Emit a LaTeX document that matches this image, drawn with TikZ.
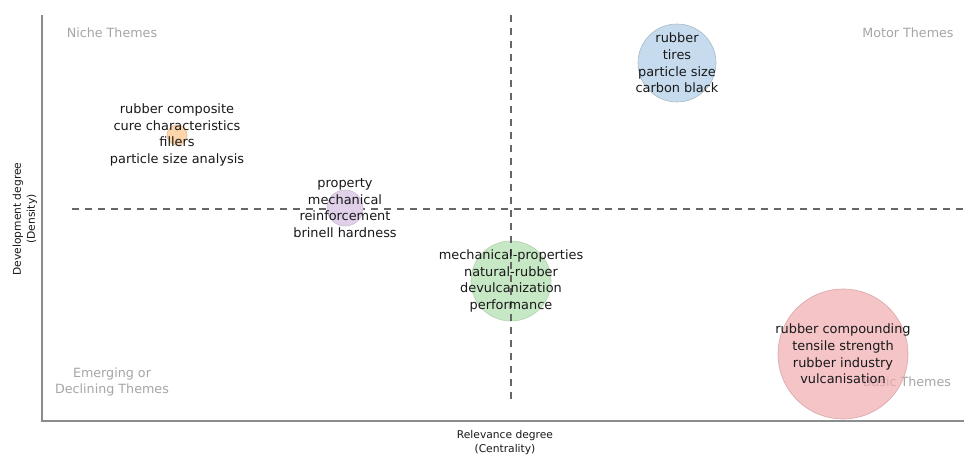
\documentclass[tikz,border=0pt]{standalone}
\usepackage{fontspec}
\setmainfont{DejaVu Sans}
\begin{document}
\begin{tikzpicture}[x=1pt,y=-1pt,
  axisline/.style={draw=black!45,line width=1.2pt},
  quadline/.style={draw=black!60,line width=1.4pt,dash pattern=on 7pt off 6pt},
  bubble/.style={circle,inner sep=0pt,minimum size=#1,line width=0.6pt},
  terms/.style={align=center,font=\fontsize{12.9}{16.7}\selectfont,text=black!90,inner sep=0pt},
  quadlabel/.style={align=center,font=\fontsize{12.7}{16.7}\selectfont,text=black!35,inner sep=0pt},
  axislabel/.style={align=center,font=\fontsize{10.7}{14}\selectfont,text=black!90,inner sep=0pt}]
\definecolor{bblue}{RGB}{198,219,237}
\definecolor{bgreen}{RGB}{199,232,196}
\definecolor{bred}{RGB}{240,171,176}
\definecolor{bpurple}{RGB}{224,208,233}
\definecolor{borange}{RGB}{252,214,170}
\useasboundingbox[fill=white] (0,0) rectangle (967,458);

% axes
\coordinate (ytop) at (42,15);
\coordinate (orig) at (42,421);
\coordinate (xend) at (964,421);
\draw[axisline] (ytop) -- (orig) -- (xend);

% quadrant separators
\coordinate (vtop) at (511,15);
\coordinate (vbot) at (511,402);
\coordinate (hleft) at (72,209);
\coordinate (hright) at (964,209);
\draw[quadline] (vtop) -- (vbot);
\draw[quadline] (hleft) -- (hright);

% quadrant names (drawn under the bubbles)
\node[quadlabel] (niche) at (112,33) {Niche Themes};
\node[quadlabel] (motor) at (908,33) {Motor Themes};
\node[quadlabel] (emerg) at (112,382) {Emerging or\\Declining Themes};
\node[quadlabel] (basic) at (907,382) {Basic Themes};

% cluster bubbles
\node[bubble=20pt,fill=borange,draw=borange!90!black] (c1) at (177,135) {};
\node[bubble=36pt,fill=bpurple,draw=bpurple!90!black] (c2) at (345,208) {};
\node[bubble=78pt,fill=bblue,draw=bblue!85!black] (c3) at (677,63) {};
\node[bubble=80pt,fill=bgreen,draw=bgreen!90!black] (c4) at (511,281) {};
\node[bubble=130pt,fill=bred,draw=bred!85!black,fill opacity=0.7,draw opacity=0.7] (c5) at (843,354) {};

% redraw the vertical separator over the central bubble
\draw[quadline] (vtop) -- (vbot);

% cluster terms
\node[terms] (t1) at (c1) {rubber composite\\cure characteristics\\fillers\\particle size analysis};
\node[terms] (t2) at (c2) {property\\mechanical\\reinforcement\\brinell hardness};
\node[terms] (t3) at (c3) {rubber\\tires\\particle size\\carbon black};
\node[terms] (t4) at (c4) {mechanical-properties\\natural-rubber\\devulcanization\\performance};
\node[terms] (t5) at (c5) {rubber compounding\\tensile strength\\rubber industry\\vulcanisation};

% axis titles
\node[axislabel] (xlab) at (505,443) {Relevance degree\\(Centrality)};
\node[axislabel,rotate=90] (ylab) at (25,219) {Development degree\\(Density)};
\end{tikzpicture}
\end{document}
